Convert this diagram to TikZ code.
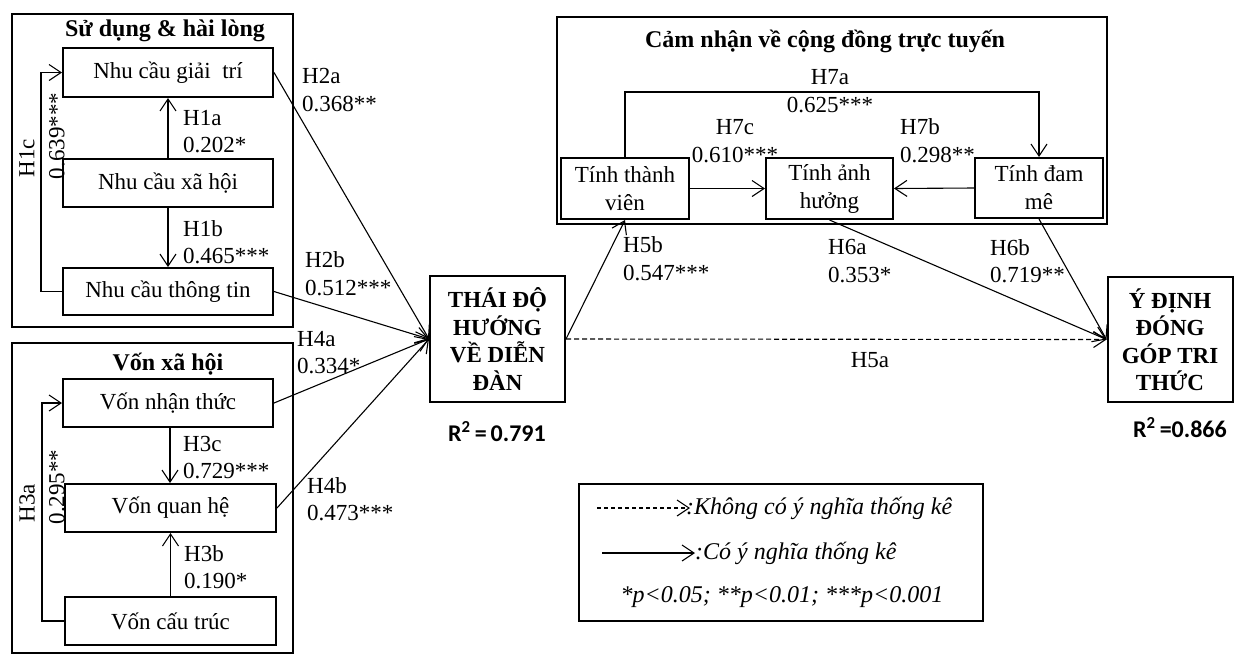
\documentclass[tikz,border=0pt]{standalone}
\usepackage{fontspec}
\setmainfont{Liberation Serif}
\newfontfamily\carlito{Carlito}
\usetikzlibrary{arrows.meta,calc}
\begin{document}
\begin{tikzpicture}[x=1pt,y=-1pt,
  >={Straight Barb[length=12pt,width=16pt]},
  conn/.style={->, line width=1.1pt},
  dconn/.style={->, line width=1.1pt, dash pattern=on 5pt off 3pt},
  box/.style={draw, line width=2pt, inner sep=0pt, align=center, font=\fontsize{23}{28}\selectfont},
  bigbox/.style={draw, line width=2pt, inner sep=0pt, align=center, font=\fontsize{23}{27.5}\selectfont\bfseries},
  frame/.style={draw, line width=2.2pt},
  title/.style={inner sep=0pt, font=\fontsize{24}{28}\selectfont\bfseries},
  lbl/.style={inner sep=0pt, align=left, font=\fontsize{23}{27.5}\selectfont},
  clbl/.style={inner sep=0pt, align=center, font=\fontsize{23}{27.5}\selectfont},
  rlbl/.style={inner sep=0pt, rotate=90, font=\fontsize{23}{26}\selectfont},
  rsq/.style={inner sep=0pt, font=\fontsize{24}{28}\selectfont\carlito\bfseries},
  leg/.style={inner sep=0pt, font=\fontsize{24}{28}\selectfont\itshape}
]
\useasboundingbox (0,0) rectangle (1235,657);

% frames
\draw[frame] (12,14) rectangle (293,327);
\draw[frame] (12,343) rectangle (293,653);
\draw[frame] (557,17) rectangle (1107,224);
\draw[frame] (579,484) rectangle (983,621);

% titles
\node[title] (t1) at (165,31) {Sử dụng \& hài lòng};
\node[title] (t2) at (168,364) {Vốn xã hội};
\node[title] (t3) at (825,41) {Cảm nhận về cộng đồng trực tuyến};

% left nodes
\node[box, minimum width=210pt, minimum height=49pt] (giaitri) at (168,72.5) {Nhu cầu giải~ trí};
\node[box, minimum width=210pt, minimum height=48pt] (xahoi) at (168,183) {Nhu cầu xã hội};
\node[box, minimum width=210pt, minimum height=47pt] (thongtin) at (168,291.5) {Nhu cầu thông tin};
\node[box, minimum width=210pt, minimum height=48pt] (nhanthuc) at (168,403) {Vốn nhận thức};
\node[box, minimum width=211pt, minimum height=48pt] (quanhe) at (170.5,508) {Vốn quan hệ};
\node[box, minimum width=211pt, minimum height=48pt] (cautruc) at (170.5,621) {Vốn cấu trúc};

% central nodes
\node[bigbox, minimum width=135pt, minimum height=126pt] (thaido) at (497.5,339) {THÁI ĐỘ\\HƯỚNG\\VỀ DIỄN\\ĐÀN};
\node[bigbox, minimum width=125pt, minimum height=125pt] (ydinh) at (1170,339.5) {Ý ĐỊNH\\ĐÓNG\\GÓP TRI\\THỨC};
\node[rsq] (r1) at (497,432) {R\textsuperscript{2}\,=\,0.791};
\node[rsq] (r2) at (1180,428) {R\textsuperscript{2}\,=0.866};

% community nodes
\node[box, minimum width=128pt, minimum height=61pt] (thanhvien) at (625,188.5) {Tính thành\\viên};
\node[box, minimum width=127pt, minimum height=61pt] (anhhuong) at (829.5,188.5) {Tính ảnh\\hưởng};
\node[box, minimum width=128pt, minimum height=60pt] (damme) at (1039,188) {Tính đam\\mê};

% connectors in left groups
\draw[conn] (xahoi.north) -- (giaitri.south);
\draw[conn] (xahoi.south) -- (thongtin.north);
\draw[conn] (thongtin.west) -- ++(-21,0) |- (giaitri.west);
\draw[conn] ($(nhanthuc.south)+(2,0)$) -- ($(nhanthuc.south |- quanhe.north)+(2,0)$);
\draw[conn] (cautruc.north) -- (quanhe.south);
\draw[conn] (cautruc.west) -- ++(-22,0) |- (nhanthuc.west);

% into THAI DO
\draw[conn] (giaitri.east) -- (thaido.west);
\draw[conn] (thongtin.east) -- (thaido.west);
\draw[conn] (nhanthuc.east) -- (thaido.west);
\draw[conn] (quanhe.east) -- (thaido.west);

% from THAI DO
\draw[conn] (thaido.east) -- (thanhvien.south);
\draw[dconn] (thaido.east) -- (ydinh.west);

% community
\draw[conn] (thanhvien.north) -- ++(0,-65) -| (damme.north);
\draw[conn] (thanhvien.east) -- (anhhuong.west);
\draw[conn] (damme.west) -- (anhhuong.east);
\draw[conn] (anhhuong.south) -- (ydinh.west);
\draw[conn] (damme.south) -- (ydinh.west);

% labels
\node[lbl, anchor=west] (h1a) at (183,131.5) {H1a\\0.202*};
\node[lbl, anchor=west] (h1b) at (183,242) {H1b\\0.465***};
\node[rlbl] (h1c) at (27,158) {H1c};
\node[rlbl] (h1cv) at (57,136) {0.639***};
\node[lbl, anchor=west] (h2a) at (302,90) {H2a\\0.368**};
\node[lbl, anchor=west] (h2b) at (305,273.5) {H2b\\0.512***};
\node[lbl, anchor=west] (h3c) at (183,457.5) {H3c\\0.729***};
\node[lbl, anchor=west] (h3b) at (184,567) {H3b\\0.190*};
\node[rlbl] (h3a) at (27,503) {H3a};
\node[rlbl] (h3av) at (57,487) {0.295**};
\node[lbl, anchor=west] (h4a) at (297,352.5) {H4a\\0.334*};
\node[lbl, anchor=west] (h4b) at (307,499) {H4b\\0.473***};
\node[lbl, anchor=west] (h5b) at (623,258.5) {H5b\\0.547***};
\node[clbl] (h5a) at (870,360) {H5a};
\node[lbl, anchor=west] (h6a) at (828,261) {H6a\\0.353*};
\node[lbl, anchor=west] (h6b) at (990,261) {H6b\\0.719**};
\node[clbl] (h7a) at (830,91) {H7a\\0.625***};
\node[clbl] (h7c) at (735,141) {H7c\\0.610***};
\node[lbl, anchor=west] (h7b) at (900,140.5) {H7b\\0.298**};

% legend
\coordinate (l1a) at (597,508);
\coordinate (l1b) at (690,508);
\coordinate (l2a) at (602,553);
\coordinate (l2b) at (695,553);
\draw[dconn, dash pattern=on 4pt off 3pt] (l1a) -- (l1b);
\draw[conn] (l2a) -- (l2b);
\node[leg, anchor=west] (lt1) at (686,508) {:Không có ý nghĩa thống kê};
\node[leg, anchor=west] (lt2) at (695,553) {:Có ý nghĩa thống kê};
\node[leg] (lt3) at (782,597) {*p<0.05; **p<0.01; ***p<0.001};
\end{tikzpicture}
\end{document}
